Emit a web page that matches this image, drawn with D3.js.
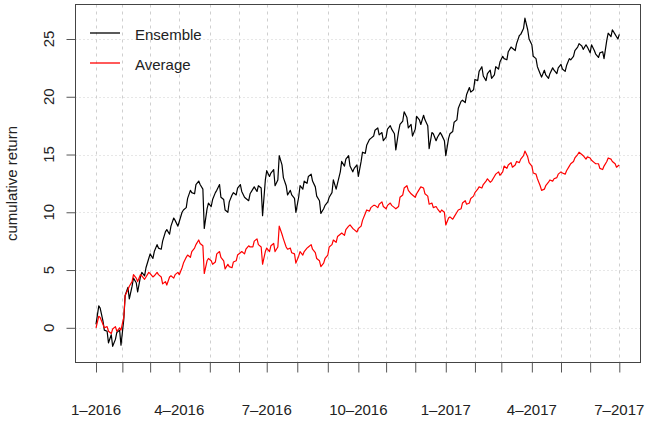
<!DOCTYPE html>
<html>
<head>
<meta charset="utf-8">
<script src="https://cdn.jsdelivr.net/npm/d3@7"></script>
<style>
  html, body { margin: 0; padding: 0; background: #fff; }
  svg { display: block; font-family: "Liberation Sans", Arial, Helvetica, sans-serif; }
</style>
</head>
<body>
<svg id="chart" width="647" height="424"></svg>
<script>
// ---- data (x = trading-day index from 1 Jan 2016) ----
const dayIndex = [0,3,6,9,12,15,18,21,24,27,30,33,36,39,42,45,48,51,54,57,60,63,66,69,72,75,78,81,84,87,90,93,96,99,102,105,108,111,114,117,120,123,126,129,132,135,138,141,144,147,150,153,156,159,162,165,168,171,174,177,180,183,186,189,192,195,198,201,204,207,210,213,216,219,222,225,228,231,234,237,240,243,246,249,252,255,258,261,264,267,270,273,276,279,282,285,288,291,294,297,300,303,306,309,312,315,318,321,324,327,330,333,336,339,342,345,348,351,354,357,360,363,366,369,372,375,377];

const ensemble = [0.3,1.7,-0.2,-1.3,-1.6,-0.4,-1.5,2.8,2.5,4.3,3.1,4.8,5.2,6.4,6.6,6.9,7.5,8.5,8.8,9.3,9.2,10.2,11.2,11.7,12.4,12.4,8.6,10.8,11.1,11.9,11.3,10.2,10.9,11.7,12.1,11.8,11.2,11.6,12.2,12.3,9.7,13.6,13.4,12.3,14.9,13.0,11.5,11.5,10.0,12.3,12.7,13.1,12.7,11.4,9.9,10.6,11.3,12.8,12.5,14.4,14.6,14.0,13.8,13.1,15.2,15.8,16.4,17.1,16.7,16.2,17.2,17.2,15.4,17.6,18.7,17.3,16.6,18.3,17.6,18.0,15.5,16.8,16.5,16.7,14.9,16.8,17.8,19.0,19.7,20.2,20.4,21.5,22.2,21.8,22.0,21.6,22.6,23.0,23.3,23.9,24.2,24.6,25.4,26.8,25.0,23.5,22.6,21.7,21.9,22.0,22.3,22.5,22.4,22.7,23.2,24.0,24.6,24.1,24.3,24.5,23.7,23.8,23.3,25.5,25.8,25.2,25.4];

const average = [0.0,0.9,0.0,-0.3,-0.1,-0.3,-0.2,2.8,3.6,4.6,4.0,4.5,4.4,4.7,4.5,4.6,3.8,3.7,4.5,4.6,4.6,5.6,6.3,6.6,7.2,7.3,4.7,6.0,5.5,6.4,6.1,5.1,5.3,5.7,6.3,6.6,6.8,7.0,7.5,7.2,5.5,6.9,7.1,6.6,8.8,7.7,6.8,6.5,5.6,6.6,6.6,7.0,6.8,6.0,5.3,6.0,7.0,7.6,7.9,8.2,8.5,8.9,8.5,8.6,9.3,10.2,10.4,10.6,10.7,10.5,10.6,10.6,10.3,11.3,12.1,11.9,11.5,11.6,12.2,11.6,10.7,10.4,10.3,10.2,8.9,9.6,9.6,10.2,10.8,10.7,11.2,11.7,12.2,12.4,12.9,12.7,13.3,13.2,14.0,14.1,13.9,14.4,14.6,15.3,14.3,13.4,12.9,11.9,12.3,12.8,12.9,13.3,13.4,13.6,14.2,14.7,15.2,14.9,14.8,14.5,14.2,13.8,14.0,14.7,14.4,13.9,14.1];

// in-between readings (day-to-day wiggle)
const midDayIndex = [2,5,8,11,14,17,20,23,26,29,32,35,38,41,44,47,50,53,56,59,62,65,68,71,74,77,80,83,86,89,92,95,98,101,104,107,110,113,116,119,122,125,128,131,134,137,140,143,146,149,152,155,158,161,164,167,170,173,176,179,182,185,188,191,194,197,200,203,206,209,212,215,218,221,224,227,230,233,236,239,242,245,248,251,254,257,260,263,266,269,272,275,278,281,284,287,290,293,296,299,302,305,308,311,314,317,320,323,326,329,332,335,338,341,344,347,350,353,356,359,362,365,368,371,374,376];

const ensembleMid = [1.9,0.6,-0.3,-0.6,-1.0,-0.2,0.7,3.5,3.6,3.9,
  4.4,4.5,6.0,6.0,7.2,6.8,8.3,8.1,9.5,8.8,
  10.0,10.4,11.9,11.6,12.7,12.0,10.3,10.5,11.7,12.4,
  11.1,10.0,11.5,11.5,12.4,11.3,11.0,12.0,11.8,12.1,
  12.8,13.1,13.7,12.8,14.1,12.3,11.9,11.2,11.3,12.0,
  12.5,13.3,12.2,11.0,10.3,10.9,11.7,12.0,13.5,14.0,
  14.9,13.5,14.1,14.4,15.1,16.3,16.6,17.3,16.9,16.5,
  17.5,16.8,17.0,17.9,18.2,17.6,17.2,18.0,18.4,17.5,
  16.9,16.2,16.9,16.2,16.4,17.0,18.0,19.6,19.5,20.8,
  20.6,21.4,22.6,21.4,22.3,21.9,22.4,23.5,23.2,24.3,
  24.0,25.3,25.9,25.8,24.5,23.3,22.0,22.3,21.6,22.5,
  22.0,22.8,22.2,23.3,23.5,24.3,24.4,24.5,23.8,24.0,
  23.4,23.9,24.9,25.2,25.4,25.0];

const averageMid = [1.0,0.3,0.1,-0.5,0.1,0.0,0.9,3.3,4.0,4.3,
  4.6,4.2,4.8,4.4,4.8,4.4,4.0,4.4,4.3,4.8,
  5.2,6.1,6.1,6.9,7.6,7.1,5.8,5.8,5.7,6.6,
  5.8,5.5,5.2,5.8,6.5,6.4,7.1,7.0,7.7,7.0,
  6.6,6.6,7.3,7.0,8.1,7.0,6.9,6.4,6.2,6.3,
  6.9,7.2,6.5,5.8,5.6,6.3,7.2,7.4,8.1,8.0,
  8.8,8.6,8.3,8.8,9.9,10.1,10.6,10.4,10.9,10.3,
  10.8,10.4,10.5,11.5,12.3,11.6,11.3,12.0,12.1,11.4,
  10.8,10.5,10.0,10.0,9.5,9.4,10.0,10.3,11.0,10.8,
  11.4,12.0,12.1,12.7,12.6,13.1,13.5,13.5,13.8,14.3,
  14.1,14.3,14.9,14.8,14.0,13.3,12.3,12.0,12.6,12.7,
  13.0,13.5,13.3,14.0,14.4,15.0,15.0,14.6,14.7,14.3,
  14.2,13.7,14.4,14.6,14.2,14.0];

// month-start tick positions (trading-day index)
const monthTicks = [0,19,39,60,82,103,123,145,167,189,209,230,252,273,292,314,335,356,377];
const labelTicks = [0,60,123,189,252,314,377];
const labelTexts = ["1–2016","4–2016","7–2016","10–2016","1–2017","4–2017","7–2017"];
const yTicks = [0,5,10,15,20,25];
const seriesNames = ["Ensemble","Average"];
const seriesColors = ["#000000","#ff0000"];

// build point tables
function buildSeries(base, mid) {
  const pts = dayIndex.map((d, i) => ({d, v: base[i]}))
    .concat(midDayIndex.map((d, i) => ({d, v: mid[i]})));
  return pts.sort((a, b) => a.d - b.d);
}
const series = [buildSeries(ensemble, ensembleMid), buildSeries(average, averageMid)];

// ---- layout ----
const svg = d3.select("#chart");
const box = {left: 75.5, right: 640.5, top: 4.5, bottom: 362.5};

const x = d3.scaleLinear().domain([0, 377]).range([96, 619.3]);
const y = d3.scaleLinear().domain([0, 25]).range([327.8, 39]);

// grid
svg.append("g").selectAll("line").data(monthTicks).join("line")
  .attr("x1", d => Math.round(x(d)) + 0.5).attr("x2", d => Math.round(x(d)) + 0.5)
  .attr("y1", box.top).attr("y2", box.bottom)
  .attr("stroke", "#cfcfcf").attr("stroke-width", 1)
  .attr("stroke-dasharray", "3,4");
svg.append("g").selectAll("line").data(yTicks).join("line")
  .attr("x1", box.left).attr("x2", box.right)
  .attr("y1", d => Math.round(y(d)) + 0.5).attr("y2", d => Math.round(y(d)) + 0.5)
  .attr("stroke", "#cfcfcf").attr("stroke-width", 1)
  .attr("stroke-dasharray", "1,3");

// series
const line = d3.line().x(p => x(p.d)).y(p => y(p.v));
series.forEach((pts, k) => {
  svg.append("path").datum(pts)
    .attr("d", line)
    .attr("fill", "none")
    .attr("stroke", seriesColors[k])
    .attr("stroke-width", 1.2)
    .attr("stroke-linejoin", "round");
});

// box
svg.append("rect")
  .attr("x", box.left).attr("y", box.top)
  .attr("width", box.right - box.left).attr("height", box.bottom - box.top)
  .attr("fill", "none").attr("stroke", "#444").attr("stroke-width", 1);

// x axis (ticks only, labels every quarter)
const xAxis = d3.axisBottom(x).tickValues(monthTicks).tickSize(10).tickFormat("");
const gx = svg.append("g").attr("transform", `translate(0,${box.bottom})`).call(xAxis);
gx.select(".domain").remove();
gx.selectAll(".tick line").attr("stroke", "#555");
svg.append("g").selectAll("text").data(labelTicks).join("text")
  .attr("x", d => x(d)).attr("y", 415)
  .attr("text-anchor", "middle")
  .attr("font-size", 15).attr("fill", "#222")
  .text((d, i) => labelTexts[i]);

// y axis
const yAxis = d3.axisLeft(y).tickValues(yTicks).tickSize(9).tickFormat("");
const gy = svg.append("g").attr("transform", `translate(${box.left},0)`).call(yAxis);
gy.select(".domain").remove();
gy.selectAll(".tick line").attr("stroke", "#555");
svg.append("g").selectAll("text").data(yTicks).join("text")
  .attr("transform", d => `translate(53.5,${y(d)}) rotate(-90)`)
  .attr("text-anchor", "middle")
  .attr("font-size", 15).attr("fill", "#222")
  .text(d => d);

svg.append("text")
  .attr("transform", `translate(17,${(box.top + box.bottom) / 2}) rotate(-90)`)
  .attr("text-anchor", "middle")
  .attr("font-size", 15).attr("fill", "#222")
  .text("cumulative return");

// legend
const lg = svg.append("g");
seriesNames.forEach((name, i) => {
  const ly = 33 + i * 30;
  lg.append("line").attr("x1", 90).attr("x2", 120).attr("y1", ly).attr("y2", ly)
    .attr("stroke", seriesColors[i]).attr("stroke-width", 1.3);
  lg.append("text").attr("x", 135).attr("y", ly + 6.5)
    .attr("font-size", 15).attr("fill", "#222").text(name);
});
</script>
</body>
</html>
